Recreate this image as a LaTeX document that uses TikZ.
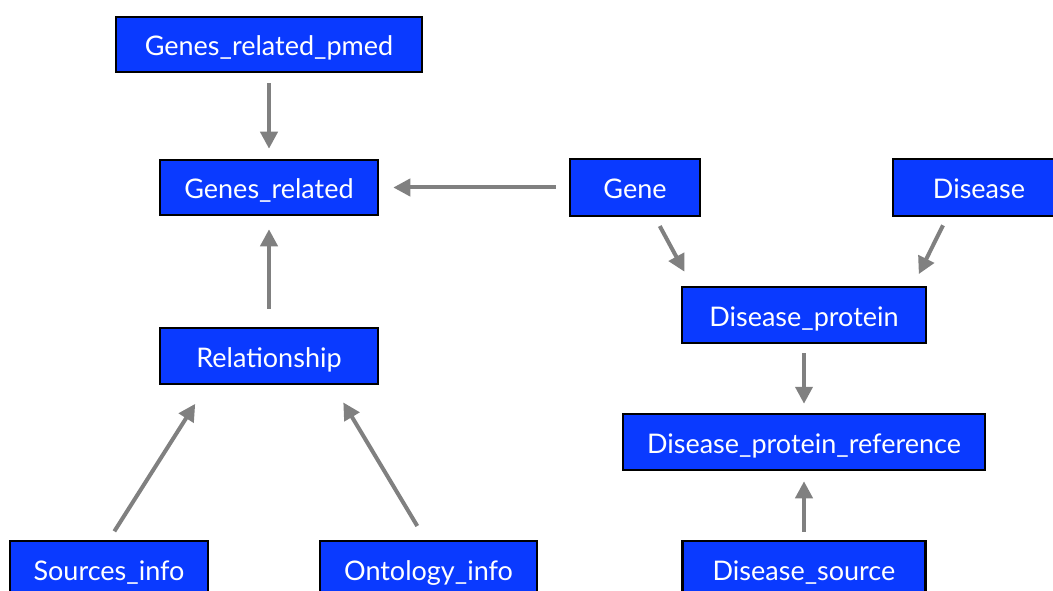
\documentclass[tikz,border=0pt]{standalone}
\usepackage{fontspec}
\setmainfont{Lato}
\usetikzlibrary{arrows.meta}
\definecolor{boxblue}{RGB}{10,58,255}
\definecolor{linkgray}{RGB}{128,128,128}
\begin{document}
\begin{tikzpicture}[x=1pt,y=-1pt,
  entity/.style={draw=black,line width=2.5pt,fill=boxblue,text=white,
    inner sep=0pt,text height=27pt,text depth=4pt,
    font=\fontsize{27}{32}\selectfont},
  link/.style={draw=linkgray,line width=4pt,
    -{Triangle[length=17pt,width=17pt]}}]
\useasboundingbox (0,0) rectangle (1053,591);
% tables
\node[entity,minimum width=306pt,minimum height=55pt] (pmed) at (269,44.5) {Genes\_related\_pmed};
\node[entity,minimum width=218pt,minimum height=55pt] (gr) at (269,187.5) {Genes\_related};
\node[entity,minimum width=130pt,minimum height=57pt] (gene) at (635,187.5) {Gene};
\node[entity,minimum width=172pt,minimum height=57pt] (dis) at (979,187.5) {Disease};
\node[entity,minimum width=244pt,minimum height=56pt] (dp) at (804,315) {Disease\_protein};
\node[entity,minimum width=218pt,minimum height=56pt] (rel) at (269,356) {Relationship};
\node[entity,minimum width=362pt,minimum height=56pt] (dpr) at (804,442) {Disease\_protein\_reference};
\node[entity,minimum width=198pt,minimum height=56pt] (src) at (109,569) {Sources\_info};
\node[entity,minimum width=217pt,minimum height=56pt] (ont) at (428.5,569) {Ontology\_info};
\node[entity,minimum width=243pt,minimum height=56pt] (ds) at (804,569) {Disease\_source};
% references
\draw[link,shorten <=10pt,shorten >=10pt] (pmed.south) -- (gr.north);
\draw[link,shorten <=13pt,shorten >=14pt] (gene.west) -- (gr.east);
\draw[link,shorten <=18pt,shorten >=13pt] (rel.north) -- (gr.south);
\draw[link,shorten <=10pt,shorten >=22pt] (src.north) -- ([xshift=-62pt]rel.south);
\draw[link,shorten <=16pt,shorten >=20pt] ([xshift=-3pt]ont.north) -- ([xshift=64pt]rel.south);
\draw[link,shorten <=10pt,shorten >=16pt] ([xshift=20pt]gene.south) -- ([xshift=-112pt]dp.north);
\draw[link,shorten <=9pt,shorten >=13pt] ([xshift=-32pt]dis.south) -- ([xshift=109pt]dp.north);
\draw[link,shorten <=9pt,shorten >=9pt] (dp.south) -- (dpr.north);
\draw[link,shorten <=8pt,shorten >=10pt] (ds.north) -- (dpr.south);
\end{tikzpicture}
\end{document}
